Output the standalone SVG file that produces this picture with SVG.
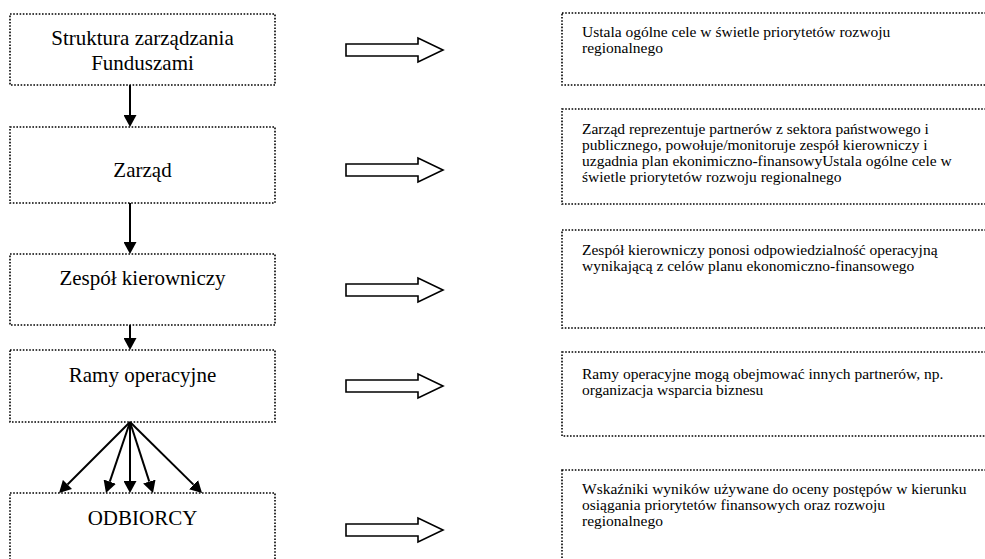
<svg xmlns="http://www.w3.org/2000/svg" width="985" height="559" viewBox="0 0 985 559">
  <style>
    .box { fill: #ffffff; stroke: #000000; stroke-width: 1.6; stroke-dasharray: 1.6 1.6; }
    .main { font-size: 21px; fill: #000000; text-anchor: middle; }
    .note { font-size: 15.5px; fill: #000000; }
    .link { stroke: #000000; stroke-width: 2; fill: none; marker-end: url(#head); }
    .block { fill: #ffffff; stroke: #000000; stroke-width: 1.6; stroke-linejoin: miter; }
  </style>
  <defs>
    <marker id="head" markerUnits="userSpaceOnUse" markerWidth="13" markerHeight="13" refX="0" refY="6.5" orient="auto">
      <path d="M0,0 L12,6.5 L0,13 Z" fill="#000000"/>
    </marker>
  </defs>
  <rect width="985" height="559" fill="#ffffff"/>

  <g font-family="Liberation Serif, DejaVu Serif, serif">
  <!-- left column: management chain -->
  <g id="node-struktura">
    <rect class="box" x="10" y="14" width="265" height="71"/>
    <text class="main" x="142.5" y="45">Struktura zarządzania</text>
    <text class="main" x="142.5" y="70">Funduszami</text>
  </g>
  <g id="node-zarzad">
    <rect class="box" x="10" y="127" width="265" height="76"/>
    <text class="main" x="142.5" y="177">Zarząd</text>
  </g>
  <g id="node-zespol">
    <rect class="box" x="10" y="254" width="265" height="71"/>
    <text class="main" x="142.5" y="285">Zespół kierowniczy</text>
  </g>
  <g id="node-ramy">
    <rect class="box" x="10" y="350" width="265" height="72"/>
    <text class="main" x="142.5" y="382">Ramy operacyjne</text>
  </g>
  <g id="node-odbiorcy">
    <!-- runs off the bottom edge of the page -->
    <rect class="box" x="10" y="493" width="265" height="90"/>
    <text class="main" x="142.5" y="525">ODBIORCY</text>
  </g>

  <!-- right column: descriptions (run off the right edge) -->
  <g id="note-1">
    <rect class="box" x="562" y="13" width="430" height="72"/>
    <text class="note" x="582" y="37">Ustala ogólne cele w świetle priorytetów rozwoju</text>
    <text class="note" x="582" y="53">regionalnego</text>
  </g>
  <g id="note-2">
    <rect class="box" x="562" y="109" width="430" height="95"/>
    <text class="note" x="582" y="134">Zarząd reprezentuje partnerów z sektora państwowego i</text>
    <text class="note" x="582" y="150">publicznego, powołuje/monitoruje zespół kierowniczy i</text>
    <text class="note" x="582" y="166">uzgadnia plan ekonimiczno-finansowyUstala ogólne cele w</text>
    <text class="note" x="582" y="182">świetle priorytetów rozwoju regionalnego</text>
  </g>
  <g id="note-3">
    <rect class="box" x="562" y="230" width="430" height="98"/>
    <text class="note" x="582" y="255">Zespół kierowniczy ponosi odpowiedzialność operacyjną</text>
    <text class="note" x="582" y="271">wynikającą z celów planu ekonomiczno-finansowego</text>
  </g>
  <g id="note-4">
    <rect class="box" x="562" y="352" width="430" height="84"/>
    <text class="note" x="582" y="379">Ramy operacyjne mogą obejmować innych partnerów, np.</text>
    <text class="note" x="582" y="395">organizacja wsparcia biznesu</text>
  </g>
  <g id="note-5">
    <rect class="box" x="562" y="470" width="430" height="110"/>
    <text class="note" x="582" y="494">Wskaźniki wyników używane do oceny postępów w kierunku</text>
    <text class="note" x="582" y="510">osiągania priorytetów finansowych oraz rozwoju</text>
    <text class="note" x="582" y="526">regionalnego</text>
  </g>
  </g>

  <!-- connectors -->
  <g id="connectors">
    <line class="link" x1="130" y1="85" x2="130" y2="115"/>
    <line class="link" x1="130" y1="203" x2="130" y2="242"/>
    <line class="link" x1="130" y1="325" x2="130" y2="338"/>
    <line class="link" x1="130" y1="422" x2="67.5" y2="484.5"/>
    <line class="link" x1="130" y1="422" x2="109.8" y2="481.6"/>
    <line class="link" x1="130" y1="422" x2="130" y2="481"/>
    <line class="link" x1="130" y1="422" x2="149.3" y2="481.6"/>
    <line class="link" x1="130" y1="422" x2="193.5" y2="484.6"/>

    <path class="block" d="M346,44 H418 V38 L443,50 L418,62 V56 H346 Z"/>
    <path class="block" d="M346,164 H418 V158 L443,170 L418,182 V176 H346 Z"/>
    <path class="block" d="M346,284 H418 V278 L443,290 L418,302 V296 H346 Z"/>
    <path class="block" d="M346,380 H418 V374 L443,386 L418,398 V392 H346 Z"/>
    <path class="block" d="M346,524 H418 V518 L443,530 L418,542 V536 H346 Z"/>
  </g>
</svg>
